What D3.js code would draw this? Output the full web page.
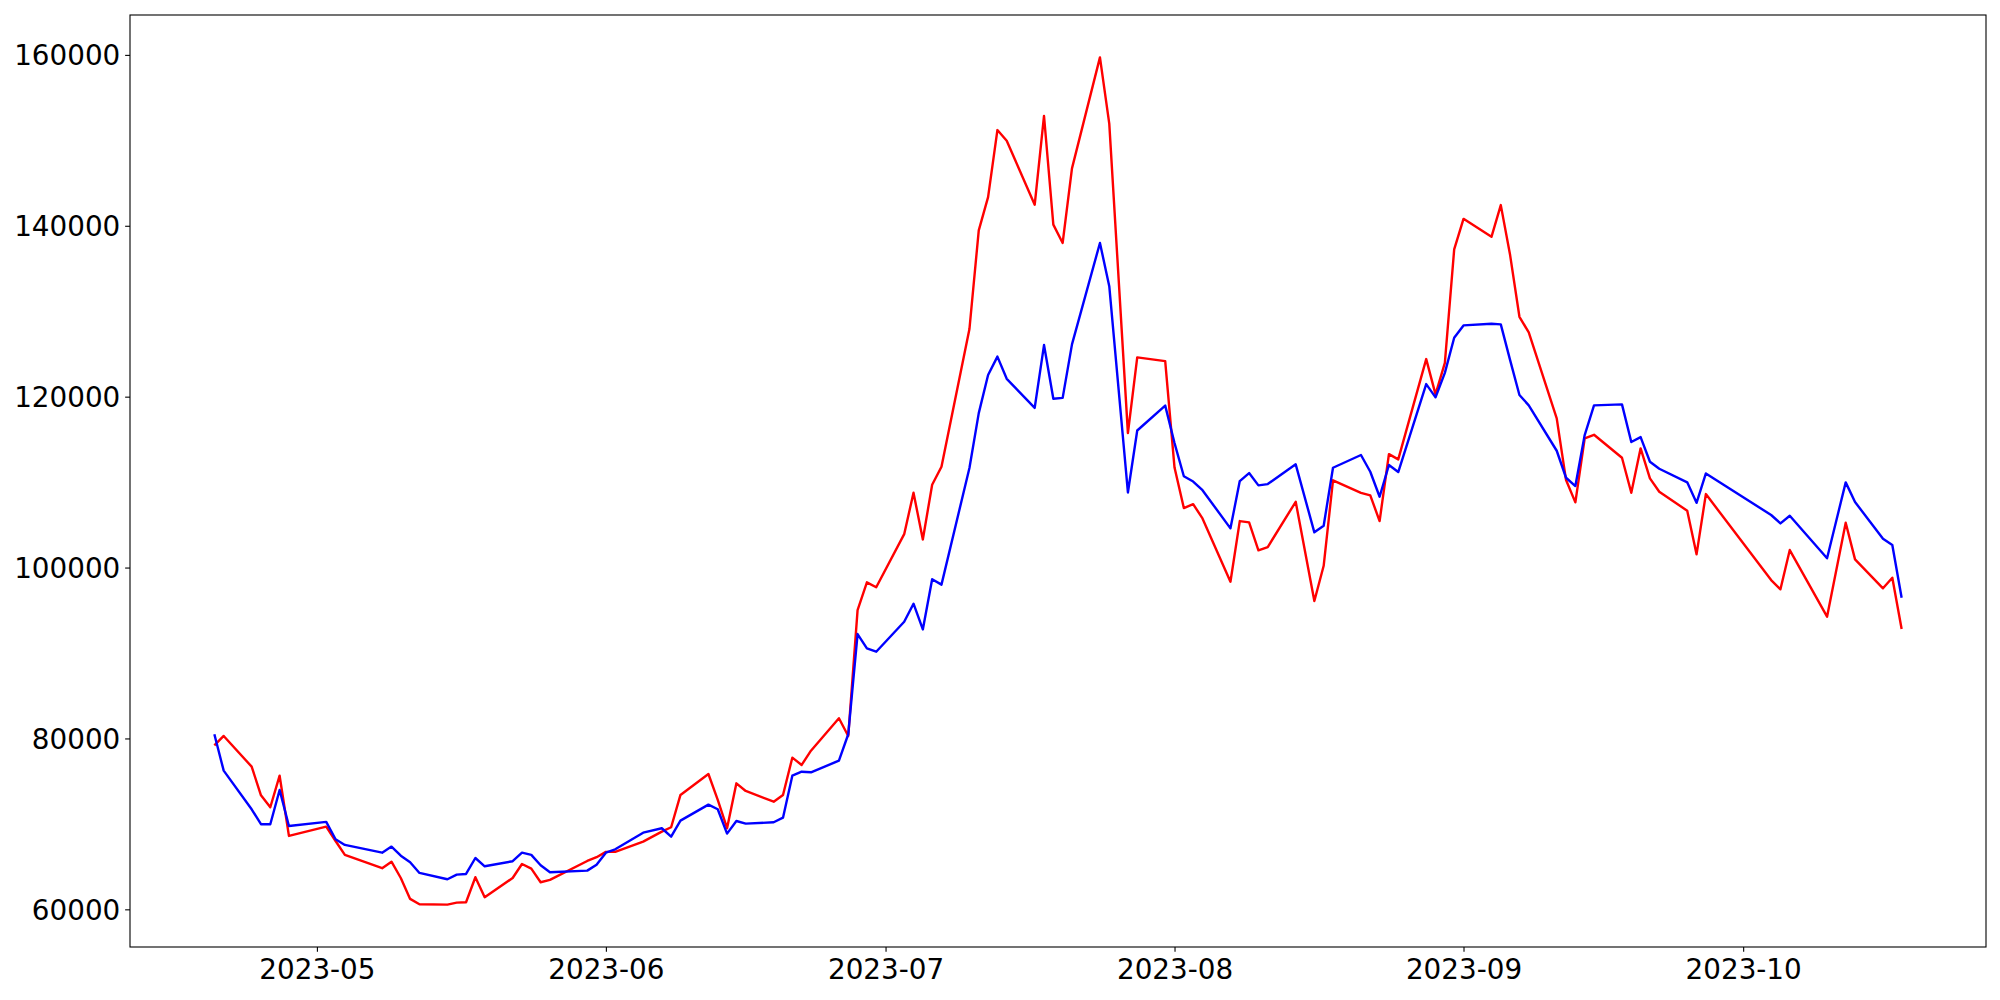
<!DOCTYPE html>
<html>
<head>
<meta charset="utf-8">
<script src="https://cdn.jsdelivr.net/npm/d3@7"></script>
<style>
  html, body { margin: 0; padding: 0; background: #ffffff; }
  svg { display: block; }
</style>
</head>
<body>
<svg id="chart" width="2000" height="1000"></svg>
<script>
// ---- data ----
const dates = [
  "2023-04-20","2023-04-21","2023-04-24","2023-04-25","2023-04-26","2023-04-27","2023-04-28",
  "2023-05-02","2023-05-03","2023-05-04","2023-05-08","2023-05-09","2023-05-10","2023-05-11","2023-05-12",
  "2023-05-15","2023-05-16","2023-05-17","2023-05-18","2023-05-19","2023-05-22","2023-05-23","2023-05-24",
  "2023-05-25","2023-05-26","2023-05-30","2023-05-31",
  "2023-06-01","2023-06-02","2023-06-05","2023-06-07","2023-06-08","2023-06-09","2023-06-12","2023-06-13",
  "2023-06-14","2023-06-15","2023-06-16","2023-06-19","2023-06-20","2023-06-21","2023-06-22","2023-06-23",
  "2023-06-26","2023-06-27","2023-06-28","2023-06-29","2023-06-30",
  "2023-07-03","2023-07-04","2023-07-05","2023-07-06","2023-07-07","2023-07-10","2023-07-11","2023-07-12",
  "2023-07-13","2023-07-14","2023-07-17","2023-07-18","2023-07-19","2023-07-20","2023-07-21","2023-07-24",
  "2023-07-25","2023-07-27","2023-07-28","2023-07-31",
  "2023-08-01","2023-08-02","2023-08-03","2023-08-04","2023-08-07","2023-08-08","2023-08-09","2023-08-10",
  "2023-08-11","2023-08-14","2023-08-16","2023-08-17","2023-08-18","2023-08-21","2023-08-22","2023-08-23",
  "2023-08-24","2023-08-25","2023-08-28","2023-08-29","2023-08-30","2023-08-31",
  "2023-09-01","2023-09-04","2023-09-05","2023-09-06","2023-09-07","2023-09-08","2023-09-11","2023-09-12",
  "2023-09-13","2023-09-14","2023-09-15","2023-09-18","2023-09-19","2023-09-20","2023-09-21","2023-09-22",
  "2023-09-25","2023-09-26","2023-09-27",
  "2023-10-04","2023-10-05","2023-10-06","2023-10-10","2023-10-12","2023-10-13","2023-10-16","2023-10-17",
  "2023-10-18"
];

const redValues = [
  79200, 80290, 76700, 73350, 71950, 75640, 68590,
  69680, 68000, 66370, 64810, 65580, 63670, 61220, 60600,
  60550, 60780, 60830, 63760, 61420, 63670, 65310, 64760,
  63170, 63440, 65660, 66100,
  66720, 66720, 67920, 69090, 69610, 73390, 75840, 72800,
  69490, 74750, 73850, 72600, 73390, 77750, 76900, 78570,
  82360, 80290, 95010, 98270, 97690,
  103910, 108750, 103290, 109690, 111800, 127920, 139470, 143360,
  151200, 149950, 142460, 152850, 140130, 137990, 146720, 159710,
  151960, 115740, 124600, 124160,
  111700, 106960, 107420, 105750, 98340, 105440, 105290, 102020,
  102400, 107700, 96080, 100210, 110210, 108750, 108450, 105440,
  113280, 112660, 124400, 120270, 123960, 137230,
  140810, 138710, 142420, 136570, 129350, 127520, 117460, 110240,
  107630, 115120, 115540, 112850, 108750, 113950, 110440, 108870,
  106650, 101550, 108600,
  98540, 97450, 102050, 94250, 105240, 100960, 97570, 98810,
  92810
];

const blueValues = [
  80490, 76230, 71710, 69960, 69960, 73970, 69760,
  70230, 68200, 67540, 66630, 67340, 66280, 65510, 64260,
  63520, 64060, 64140, 66010, 65040, 65630, 66630, 66370,
  65160, 64340, 64530, 65230,
  66630, 67030, 68970, 69490, 68510, 70380, 72250, 71710,
  68860, 70340, 70030, 70190, 70730, 75640, 76110, 76040,
  77400, 80490, 92220, 90550, 90150,
  93660, 95770, 92760, 98630, 98000, 111660, 118070, 122540,
  124690, 122090, 118690, 126040, 119760, 119860, 126120, 137990,
  132930, 108790, 116040, 118950,
  114570, 110690, 110070, 109050, 104590, 110120, 111060, 109620,
  109770, 112080, 104120, 104890, 111680, 113170, 111210, 108290,
  112000, 111180, 121470, 119920, 122790, 126890,
  128340, 128530, 128460, 124280, 120190, 118980, 113670, 110510,
  109540, 115510, 118980, 119100, 114690, 115270, 112380, 111560,
  109970, 107580, 111020,
  106150, 105170, 106060, 101080, 109970, 107670, 103370, 102640,
  96470
];

const xTickLabels = ["2023-05","2023-06","2023-07","2023-08","2023-09","2023-10"];
const yTickValues = [60000, 80000, 100000, 120000, 140000, 160000];

const seriesColors = ["#ff0000", "#0000ff"];

// ---- layout ----
const W = 2000, H = 1000;
const margin = { left: 130, right: 14, top: 15, bottom: 53 };
const iw = W - margin.left - margin.right;
const ih = H - margin.top - margin.bottom;
const FONT = "'DejaVu Sans', sans-serif";
const FS = 27.8;

const parse = d3.utcParse("%Y-%m-%d");
const parseMonth = d3.utcParse("%Y-%m");
const xs = dates.map(parse);

const series = [redValues, blueValues].map((vals, k) => ({
  color: seriesColors[k],
  points: vals.map((v, i) => ({ date: xs[i], value: v }))
}));

// matplotlib-like 5% margins
const xExt = d3.extent(xs);
const xSpan = xExt[1] - xExt[0];
const allVals = redValues.concat(blueValues);
const yExt = d3.extent(allVals);
const ySpan = yExt[1] - yExt[0];

const x = d3.scaleUtc()
  .domain([new Date(+xExt[0] - 0.05 * xSpan), new Date(+xExt[1] + 0.05 * xSpan)])
  .range([0, iw]);
const y = d3.scaleLinear()
  .domain([yExt[0] - 0.05 * ySpan, yExt[1] + 0.05 * ySpan])
  .range([ih, 0]);

const svg = d3.select("#chart");
svg.append("rect").attr("width", W).attr("height", H).attr("fill", "#ffffff");

const g = svg.append("g").attr("transform", `translate(${margin.left},${margin.top})`);

const clipId = "plotclip";
g.append("clipPath").attr("id", clipId)
  .append("rect").attr("width", iw).attr("height", ih);

const line = d3.line()
  .x(d => x(d.date))
  .y(d => y(d.value));

const plot = g.append("g").attr("clip-path", `url(#${clipId})`);
series.forEach(s => {
  plot.append("path")
    .datum(s.points)
    .attr("fill", "none")
    .attr("stroke", s.color)
    .attr("stroke-width", 2.4)
    .attr("stroke-linejoin", "round")
    .attr("stroke-linecap", "butt")
    .attr("d", line);
});

// axes
const tickLen = 4.86;
const xAxis = d3.axisBottom(x)
  .tickValues(xTickLabels.map(parseMonth))
  .tickFormat(d3.utcFormat("%Y-%m"))
  .tickSize(tickLen)
  .tickSizeOuter(0)
  .tickPadding(7.4);
const gx = g.append("g").attr("transform", `translate(0,${ih})`).call(xAxis);

const yAxis = d3.axisLeft(y)
  .tickValues(yTickValues)
  .tickFormat(d3.format("d"))
  .tickSize(tickLen)
  .tickSizeOuter(0)
  .tickPadding(4.86);
const gy = g.append("g").call(yAxis);

[gx, gy].forEach(ax => {
  ax.select(".domain").remove();
  ax.selectAll(".tick line").attr("stroke", "#000").attr("stroke-width", 1.1);
  ax.selectAll(".tick text")
    .attr("fill", "#000")
    .style("font-family", FONT)
    .style("font-size", FS + "px");
});
gy.selectAll(".tick text").attr("dy", "0.36em");

// frame (spines)
g.append("rect")
  .attr("x", 0).attr("y", 0)
  .attr("width", iw).attr("height", ih)
  .attr("fill", "none")
  .attr("stroke", "#000")
  .attr("stroke-width", 1.1);
</script>
</body>
</html>
